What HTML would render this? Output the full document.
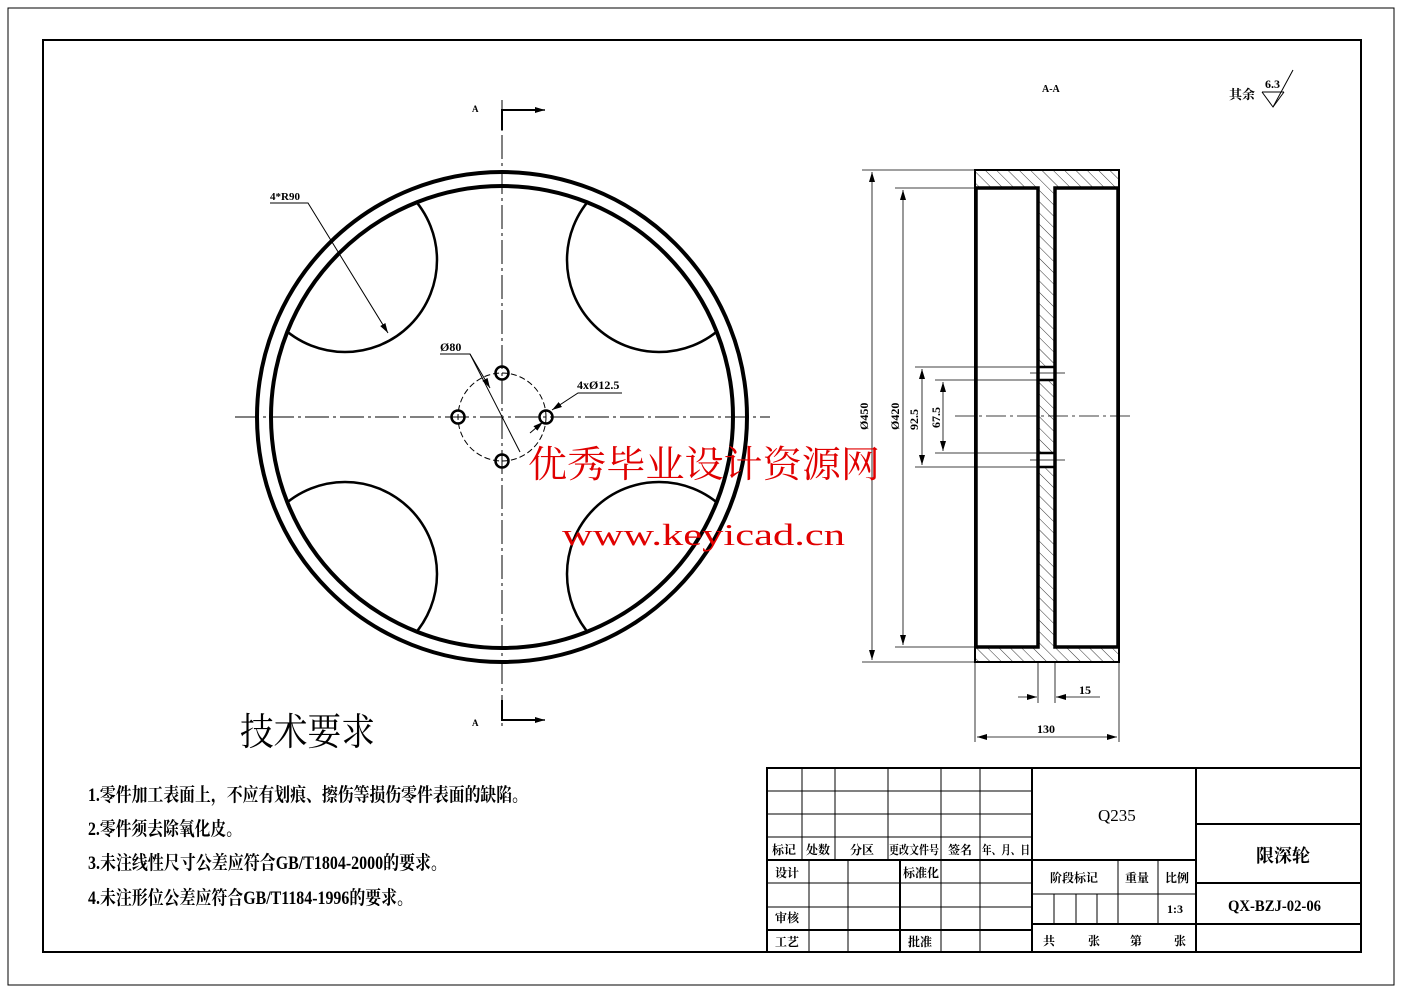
<!DOCTYPE html>
<html><head><meta charset="utf-8"><style>
html,body{margin:0;padding:0;background:#fff;}
svg{display:block;}
text{font-family:"Liberation Serif","Noto Serif CJK SC","Noto Sans CJK SC",serif;fill:#000;}
.b{font-weight:bold;}
</style></head><body>
<svg width="1403" height="992" viewBox="0 0 1403 992" xmlns="http://www.w3.org/2000/svg">
<defs>
<pattern id="hatch" patternUnits="userSpaceOnUse" width="8" height="8" patternTransform="rotate(-45)">
<line x1="0" y1="0" x2="0" y2="8" stroke="#000" stroke-width="0.8"/>
</pattern>
<clipPath id="inner"><circle cx="502" cy="417" r="231"/></clipPath>
<marker id="ar" markerWidth="10" markerHeight="6" refX="10" refY="3" orient="auto" markerUnits="userSpaceOnUse"><path d="M0,0 L10,3 L0,6 z" fill="#000"/></marker>
</defs>
<rect x="8" y="8" width="1386" height="977" fill="none" stroke="#000" stroke-width="1"/>
<rect x="43" y="40" width="1318" height="912" fill="none" stroke="#000" stroke-width="2"/>

<g fill="none" stroke="#000">
<circle cx="502" cy="417" r="245" stroke-width="4"/>
<circle cx="502" cy="417" r="231" stroke-width="4"/>
<g clip-path="url(#inner)" stroke-width="2.5">
<circle cx="345" cy="260" r="92"/>
<circle cx="659" cy="260" r="92"/>
<circle cx="345" cy="574" r="92"/>
<circle cx="659" cy="574" r="92"/>
</g>
<circle cx="502" cy="417" r="44" stroke-width="1" stroke-dasharray="6,3"/>
<g stroke-width="2.5">
<circle cx="502" cy="373" r="6.5"/><circle cx="502" cy="461" r="6.5"/>
<circle cx="458" cy="417" r="6.5"/><circle cx="546" cy="417" r="6.5"/>
</g>
<line x1="235" y1="417" x2="770" y2="417" stroke-width="1" stroke-dasharray="24,4,3,4"/>
<line x1="502" y1="100" x2="502" y2="730" stroke-width="1" stroke-dasharray="24,4,3,4"/>
<polyline points="502,130 502,110 535,110" stroke-width="2"/>
<line x1="520" y1="110" x2="545" y2="110" stroke-width="1.5" marker-end="url(#ar)"/>
<polyline points="502,700 502,720 535,720" stroke-width="2"/>
<line x1="520" y1="720" x2="545" y2="720" stroke-width="1.5" marker-end="url(#ar)"/>
<polyline points="270,203 308,203 388,333" stroke-width="1" marker-end="url(#ar)"/>
<polyline points="440,354 470,354 520,452" stroke-width="1"/>
<line x1="470" y1="354" x2="490" y2="388" stroke-width="1" marker-end="url(#ar)"/>
<polyline points="622,393 578,393 552,410" stroke-width="1" marker-end="url(#ar)"/>
<line x1="530" y1="433" x2="543" y2="422" stroke-width="1" marker-end="url(#ar)"/>
</g>
<text x="270" y="200" font-size="11" class="b">4*R90</text>
<text x="440" y="351" font-size="12" class="b">Ø80</text>
<text x="577" y="389" font-size="12" class="b">4xØ12.5</text>
<text x="472" y="112" font-size="9" class="b">A</text>
<text x="472" y="726" font-size="9" class="b">A</text>
<text x="1042" y="92" font-size="10" class="b">A-A</text>

<text x="1229" y="99" font-size="13" class="b">其余</text>
<text x="1265" y="88" font-size="12" class="b">6.3</text>
<line x1="1262" y1="92" x2="1284" y2="92" stroke="#000" stroke-width="1"/>
<polyline points="1262,92 1273,107 1293,70" fill="none" stroke="#000" stroke-width="1"/>
<line x1="1284" y1="92" x2="1273" y2="107" stroke="#000" stroke-width="1"/>

<g stroke="#000">
<rect x="975" y="170" width="144" height="18" fill="url(#hatch)" stroke="none"/>
<rect x="975" y="647" width="144" height="15" fill="url(#hatch)" stroke="none"/>
<rect x="1038" y="188" width="17" height="459" fill="url(#hatch)" stroke="none"/>
<rect x="1038" y="367" width="17" height="13" fill="#fff" stroke="none"/>
<rect x="1038" y="453" width="17" height="14" fill="#fff" stroke="none"/>
<g fill="none">
<rect x="975" y="170" width="144" height="492" stroke-width="2"/>
<rect x="976" y="188" width="62" height="459" stroke-width="3.5"/>
<rect x="1055" y="188" width="63" height="459" stroke-width="3.5"/>
<g stroke-width="2.5">
<line x1="1038" y1="367" x2="1055" y2="367"/><line x1="1038" y1="380" x2="1055" y2="380"/>
<line x1="1038" y1="453" x2="1055" y2="453"/><line x1="1038" y1="467" x2="1055" y2="467"/>
</g>
<g stroke-width="0.8">
<line x1="1030" y1="373" x2="1065" y2="373"/><line x1="1030" y1="460" x2="1065" y2="460"/>
<line x1="955" y1="416" x2="1130" y2="416" stroke-dasharray="20,4,3,4"/>
<line x1="862" y1="170" x2="975" y2="170"/><line x1="862" y1="662" x2="975" y2="662"/>
<line x1="895" y1="188" x2="975" y2="188"/><line x1="895" y1="647" x2="975" y2="647"/>
<line x1="915" y1="367" x2="1045" y2="367"/><line x1="915" y1="467" x2="1045" y2="467"/>
<line x1="935" y1="380" x2="1045" y2="380"/><line x1="935" y1="453" x2="1045" y2="453"/>
<line x1="872" y1="190" x2="872" y2="172" marker-end="url(#ar)"/><line x1="872" y1="640" x2="872" y2="660" marker-end="url(#ar)"/><line x1="872" y1="190" x2="872" y2="640"/>
<line x1="903" y1="200" x2="903" y2="190" marker-end="url(#ar)"/><line x1="903" y1="630" x2="903" y2="645" marker-end="url(#ar)"/><line x1="903" y1="200" x2="903" y2="630"/>
<line x1="922" y1="380" x2="922" y2="369" marker-end="url(#ar)"/><line x1="922" y1="455" x2="922" y2="465" marker-end="url(#ar)"/><line x1="922" y1="380" x2="922" y2="455"/>
<line x1="943" y1="395" x2="943" y2="382" marker-end="url(#ar)"/><line x1="943" y1="440" x2="943" y2="451" marker-end="url(#ar)"/><line x1="943" y1="395" x2="943" y2="440"/>
<line x1="975" y1="662" x2="975" y2="742"/><line x1="1119" y1="662" x2="1119" y2="742"/>
<line x1="1038" y1="662" x2="1038" y2="703"/><line x1="1055" y1="662" x2="1055" y2="703"/>
<line x1="1018" y1="697" x2="1037" y2="697" marker-end="url(#ar)"/>
<line x1="1100" y1="697" x2="1056" y2="697" marker-end="url(#ar)"/>
<line x1="1000" y1="737" x2="977" y2="737" marker-end="url(#ar)"/>
<line x1="1000" y1="737" x2="1095" y2="737"/>
<line x1="1095" y1="737" x2="1117" y2="737" marker-end="url(#ar)"/>
</g></g></g>
<text font-size="12" class="b" transform="translate(868,430) rotate(-90)">Ø450</text>
<text font-size="12" class="b" transform="translate(899,430) rotate(-90)">Ø420</text>
<text font-size="12" class="b" transform="translate(918,430) rotate(-90)">92.5</text>
<text font-size="12" class="b" transform="translate(940,428) rotate(-90)">67.5</text>
<text x="1079" y="694" font-size="12" class="b">15</text>
<text x="1037" y="733" font-size="12" class="b">130</text>

<text x="240" y="745" font-size="38" textLength="135" lengthAdjust="spacingAndGlyphs">技术要求</text>
<g font-size="19" class="b">
<text x="88" y="801" textLength="440" lengthAdjust="spacingAndGlyphs">1.零件加工表面上，不应有划痕、擦伤等损伤零件表面的缺陷。</text>
<text x="88" y="835" textLength="154" lengthAdjust="spacingAndGlyphs">2.零件须去除氧化皮。</text>
<text x="88" y="869" textLength="359" lengthAdjust="spacingAndGlyphs">3.未注线性尺寸公差应符合GB/T1804-2000的要求。</text>
<text x="88" y="904" textLength="325" lengthAdjust="spacingAndGlyphs">4.未注形位公差应符合GB/T1184-1996的要求。</text>
</g>

<g stroke="#000" fill="none">
<rect x="767" y="768" width="594" height="184" stroke-width="2"/>
<g stroke-width="1">
<line x1="767" y1="791" x2="1032" y2="791"/>
<line x1="767" y1="814" x2="1032" y2="814"/>
<line x1="767" y1="837" x2="1032" y2="837"/>
<line x1="767" y1="883" x2="1032" y2="883"/>
<line x1="767" y1="907" x2="1032" y2="907"/>
<line x1="802" y1="768" x2="802" y2="860"/>
<line x1="835" y1="768" x2="835" y2="860"/>
<line x1="888" y1="768" x2="888" y2="860"/>
<line x1="941" y1="768" x2="941" y2="952"/>
<line x1="980" y1="768" x2="980" y2="952"/>
<line x1="809" y1="860" x2="809" y2="952"/>
<line x1="848" y1="860" x2="848" y2="952"/>
<line x1="1118" y1="860" x2="1118" y2="924"/>
<line x1="1158" y1="860" x2="1158" y2="924"/>
<line x1="1032" y1="894" x2="1196" y2="894"/>
<line x1="1054" y1="894" x2="1054" y2="924"/>
<line x1="1076" y1="894" x2="1076" y2="924"/>
<line x1="1097" y1="894" x2="1097" y2="924"/>
</g>
<g stroke-width="2">
<line x1="767" y1="860" x2="1196" y2="860"/>
<line x1="767" y1="930" x2="1032" y2="930"/>
<line x1="900" y1="860" x2="900" y2="952"/>
<line x1="1032" y1="768" x2="1032" y2="952"/>
<line x1="1196" y1="768" x2="1196" y2="952"/>
<line x1="1196" y1="824" x2="1361" y2="824"/>
<line x1="1196" y1="883" x2="1361" y2="883"/>
<line x1="1196" y1="924" x2="1361" y2="924"/>
<line x1="1032" y1="924" x2="1196" y2="924"/>
</g></g>
<g font-size="12" class="b">
<text x="772" y="854">标记</text><text x="806" y="854">处数</text><text x="850" y="854">分区</text>
<text x="889" y="854" textLength="50" lengthAdjust="spacingAndGlyphs">更改文件号</text>
<text x="948" y="854">签名</text><text x="982" y="854" textLength="48" lengthAdjust="spacingAndGlyphs">年、月、日</text>
<text x="775" y="877">设计</text><text x="903" y="877">标准化</text>
<text x="775" y="922">审核</text>
<text x="775" y="946">工艺</text><text x="908" y="946">批准</text>
<text x="1050" y="882">阶段标记</text><text x="1125" y="882">重量</text><text x="1165" y="882">比例</text>
<text x="1167" y="913">1:3</text>
<text x="1043" y="945">共</text><text x="1088" y="945">张</text><text x="1130" y="945">第</text><text x="1174" y="945">张</text>
</g>
<text x="1098" y="821" font-size="17">Q235</text>
<text x="1256" y="862" font-size="18" class="b">限深轮</text>
<text x="1228" y="911" font-size="16" class="b" textLength="93" lengthAdjust="spacingAndGlyphs">QX-BZJ-02-06</text>

<text x="528" y="477" font-size="37" style="fill:#e00000" font-family="Liberation Sans,Noto Sans CJK SC,sans-serif" textLength="352" lengthAdjust="spacingAndGlyphs">优秀毕业设计资源网</text>
<text x="562" y="545" font-size="31" style="fill:#e00000" textLength="283" lengthAdjust="spacingAndGlyphs">www.keyicad.cn</text>
</svg>
</body></html>
